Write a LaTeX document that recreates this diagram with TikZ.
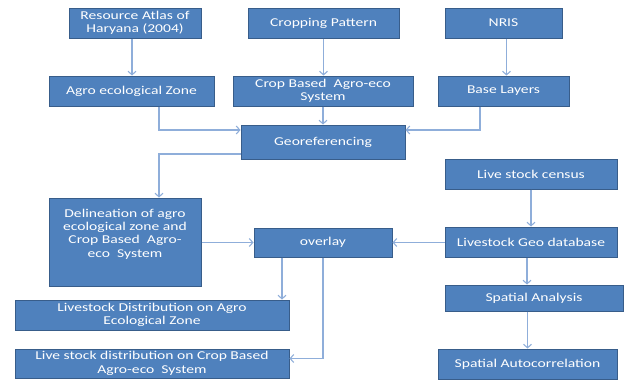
\documentclass[tikz,border=0pt]{standalone}
\usepackage{fontspec}
\setmainfont[FakeStretch=1.3]{Carlito}
\usetikzlibrary{arrows.meta}
\definecolor{boxfill}{HTML}{4F81BD}
\definecolor{boxline}{HTML}{385D8A}
\definecolor{conn}{HTML}{8FAEDA}
\begin{document}
\begin{tikzpicture}[x=1pt,y=-1pt,
  box/.style={draw=boxline, line width=1pt, fill=boxfill, text=white, inner sep=0pt, align=center,
    font=\fontsize{12}{13.3}\selectfont},
  plain/.style={text=white, inner sep=0pt, align=center, font=\fontsize{12}{13.3}\selectfont},
  arr/.style={draw=conn, line width=1.1pt, -{Straight Barb[length=3.5pt,width=8pt]}}]
\useasboundingbox (0,0) rectangle (627,380);
\node[box, minimum width=132pt, minimum height=30pt] (atlas) at (135,23) {Resource Atlas of\\Haryana (2004)};
\node[box, minimum width=151pt, minimum height=30pt] (cp) at (323.5,23) {Cropping Pattern};
\node[box, minimum width=117pt, minimum height=30pt] (nris) at (503.5,23) {NRIS};
\node[box, minimum width=165pt, minimum height=30pt] (aez) at (131.5,91) {Agro ecological Zone};
\node[box, minimum width=180pt, minimum height=30pt] (cbaes) at (323,91) {Crop Based\ \ Agro-eco\\System};
\node[box, minimum width=131pt, minimum height=30pt] (base) at (503.5,91) {Base Layers};
\node[box, minimum width=164pt, minimum height=34pt] (georef) at (323,142) {Georeferencing};
\node[box, minimum width=172pt, minimum height=30pt] (census) at (531,174) {Live stock census};
\node[box, minimum width=152pt, minimum height=88pt] (delin) at (125,242) {};
\node[plain] (delintext) at (125,234) {Delineation of agro\\ecological zone and\\Crop Based\ \ Agro-\\eco\ \ System};
\node[box, minimum width=138pt, minimum height=29pt] (overlay) at (323,242.5) {overlay};
\node[box, minimum width=172pt, minimum height=30pt] (geodb) at (531,242) {Livestock Geo database};
\node[box, minimum width=178pt, minimum height=26pt] (spatial) at (534,298) {Spatial Analysis};
\node[box, minimum width=179pt, minimum height=30pt] (autoc) at (527.5,364) {Spatial Autocorrelation};
\node[box, minimum width=274pt, minimum height=30pt] (ldagro) at (152,315) {Livestock Distribution on Agro\\Ecological Zone};
\node[box, minimum width=274pt, minimum height=29pt] (ldcrop) at (152,363.5) {Live stock distribution on Crop Based\\Agro-eco\ \ System};
\draw[arr] ([xshift=-3pt]atlas.south) -- ([xshift=-3pt]atlas.south |- aez.north);
\draw[arr] (cp.south) -- (cp.south |- cbaes.north);
\draw[arr] ([xshift=3pt]nris.south) -- ([xshift=3pt]nris.south |- base.north);
\draw[arr] ([xshift=27.5pt]aez.south) |- ([yshift=12pt]georef.west);
\draw[arr] (cbaes.south) -- (georef.north);
\draw[arr] ([xshift=-23.5pt]base.south) |- ([yshift=12pt]georef.east);
\draw[arr] ([yshift=-12pt]georef.west) -| ([xshift=34pt]delin.north);
\draw[arr] (delin.east |- overlay.west) -- (overlay.west);
\draw[arr] (geodb.west |- overlay.east) -- (overlay.east);
\draw[arr] ([xshift=-41pt]overlay.south) -- ([xshift=-41pt]overlay.south |- ldagro.north);
\draw[arr] (overlay.south) |- ([yshift=5pt]ldcrop.east);
\draw[arr] (census.south) -- (geodb.north);
\draw[arr] ([xshift=-4pt]geodb.south) -- ([xshift=-4pt]geodb.south |- spatial.north);
\draw[arr] (autoc.north |- spatial.south) -- (autoc.north);
\end{tikzpicture}
\end{document}
